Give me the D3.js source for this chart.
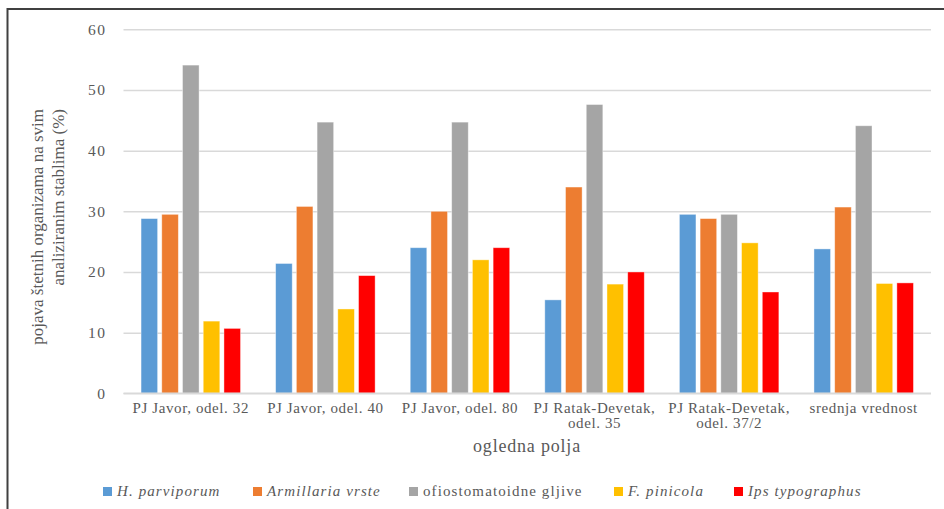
<!DOCTYPE html>
<html>
<head>
<meta charset="utf-8">
<script src="https://cdn.jsdelivr.net/npm/d3@7"></script>
<style>
  html, body { margin: 0; padding: 0; background: #fff; }
  svg { display: block; }
  svg text { font-family: "Liberation Serif", "Times New Roman", serif; }
</style>
</head>
<body>
<svg id="chart" width="944" height="509"></svg>
<script>
// Sample plots (x categories); "\n" splits a label over two lines
const categories = [
  "PJ Javor, odel. 32",
  "PJ Javor, odel. 40",
  "PJ Javor, odel. 80",
  "PJ Ratak-Devetak,\nodel. 35",
  "PJ Ratak-Devetak,\nodel. 37/2",
  "srednja vrednost"
];

// Share of analysed trees with each harmful organism (%)
const hParviporum    = [28.8, 21.4, 24.0, 15.4, 29.5, 23.8];
const armillaria     = [29.5, 30.8, 30.0, 34.0, 28.8, 30.7];
const ofiostomatoid  = [54.1, 44.7, 44.7, 47.6, 29.5, 44.1];
const fPinicola      = [11.9, 13.9, 22.0, 18.0, 24.8, 18.1];
const ipsTypographus = [10.7, 19.4, 24.0, 20.0, 16.7, 18.2];

const seriesNames  = ["H. parviporum", "Armillaria vrste", "ofiostomatoidne gljive", "F. pinicola", "Ips typographus"];
const seriesItalic = [true, true, false, true, true];
const seriesColors = ["#5b9bd5", "#ed7d31", "#a5a5a5", "#ffc000", "#ff0000"];
const yTicks = [0, 10, 20, 30, 40, 50, 60];

const seriesValues = [hParviporum, armillaria, ofiostomatoid, fPinicola, ipsTypographus];

const svg = d3.select("#chart");
const textColor = "#595959";
const serif = "Liberation Serif";

// Chart frame (top and left edges)
svg.append("line").attr("x1", 7.5).attr("x2", 944).attr("y1", 9).attr("y2", 9)
  .attr("stroke", "#404040").attr("stroke-width", 2);
svg.append("line").attr("x1", 7.5).attr("x2", 7.5).attr("y1", 8).attr("y2", 509)
  .attr("stroke", "#404040").attr("stroke-width", 2);

const plot = { left: 123.5, right: 931, top: 29.3, bottom: 393.3 };

const x = d3.scaleBand()
  .domain(categories)
  .range([plot.left, plot.right])
  .paddingInner(0.23)
  .paddingOuter(0.115);

const xs = d3.scaleBand()
  .domain(seriesNames)
  .range([0, x.bandwidth()])
  .paddingInner(0.2)
  .paddingOuter(0.1);

const y = d3.scaleLinear().domain([0, 60]).range([plot.bottom, plot.top]);

// Horizontal gridlines + y tick labels
const yAxis = d3.axisLeft(y).tickValues(yTicks).tickSize(-(plot.right - plot.left)).tickPadding(17);
const gy = svg.append("g").attr("transform", `translate(${plot.left},0)`).call(yAxis);
gy.attr("font-family", serif);
gy.select(".domain").remove();
gy.selectAll(".tick line").attr("stroke", "#d9d9d9").attr("stroke-width", 1.5);
gy.selectAll(".tick text")
  .attr("fill", textColor)
  .attr("font-size", 15.5)
  .attr("letter-spacing", 1.5)
  .attr("font-family", serif);

// Bars
const groups = svg.append("g").selectAll("g")
  .data(categories)
  .join("g")
  .attr("transform", d => `translate(${x(d)},0)`);

groups.selectAll("rect")
  .data((c, ci) => seriesNames.map((s, si) => ({ s, si, v: seriesValues[si][ci] })))
  .join("rect")
  .attr("x", d => xs(d.s))
  .attr("width", xs.bandwidth())
  .attr("y", d => y(d.v))
  .attr("height", d => y(0) - y(d.v))
  .attr("fill", d => seriesColors[d.si])
  .attr("stroke", "#ffffff")
  .attr("stroke-opacity", 0.5)
  .attr("stroke-width", 0.8);

// Baseline (category axis)
const xAxis = d3.axisBottom(x).tickSize(0).tickPadding(0).tickFormat("");
const gx = svg.append("g").attr("transform", `translate(0,${plot.bottom})`).call(xAxis);
gx.select(".domain").attr("stroke", "#d9d9d9").attr("stroke-width", 1.5)
  .attr("d", `M${plot.left},0H${plot.right}`);

// Category labels (possibly two lines)
const catLabels = svg.append("g").selectAll("text")
  .data(categories)
  .join("text")
  .attr("x", d => x(d) + x.bandwidth() / 2)
  .attr("y", 413)
  .attr("text-anchor", "middle")
  .attr("fill", textColor)
  .attr("font-family", serif)
  .attr("font-size", 15)
  .attr("letter-spacing", 0.6);
catLabels.selectAll("tspan")
  .data(d => d.split("\n"))
  .join("tspan")
  .attr("x", function () { return this.parentNode.getAttribute("x"); })
  .attr("dy", (d, i) => i === 0 ? 0 : 15)
  .text(d => d);

// Axis titles
svg.append("text")
  .attr("x", 527).attr("y", 452)
  .attr("text-anchor", "middle")
  .attr("fill", textColor)
  .attr("font-family", serif)
  .attr("font-size", 18)
  .attr("letter-spacing", 0.8)
  .text("ogledna polja");

const yTitle = svg.append("text")
  .attr("transform", "rotate(-90)")
  .attr("text-anchor", "end")
  .attr("fill", textColor)
  .attr("font-family", serif)
  .attr("font-size", 17);
yTitle.append("tspan").attr("x", -109).attr("y", 43).text("pojava štetnih organizama na svim");
yTitle.append("tspan").attr("x", -109).attr("y", 64).text("analiziranim stablima (%)");

// Legend
const legendX = [103, 253, 409, 614, 734];
const legend = svg.append("g").selectAll("g")
  .data(seriesNames)
  .join("g")
  .attr("transform", (d, i) => `translate(${legendX[i]},487)`);
legend.append("rect")
  .attr("width", 9).attr("height", 9)
  .attr("fill", (d, i) => seriesColors[i]);
legend.append("text")
  .attr("x", 14).attr("y", 9)
  .attr("fill", textColor)
  .attr("font-family", serif)
  .attr("font-size", 15)
  .attr("letter-spacing", 1.1)
  .attr("font-style", (d, i) => seriesItalic[i] ? "italic" : "normal")
  .text(d => d);
</script>
</body>
</html>
